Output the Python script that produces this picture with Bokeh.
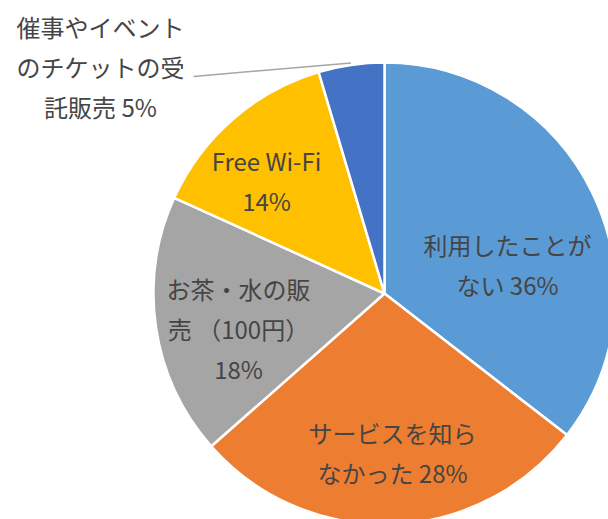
import math
from bokeh.plotting import figure
from bokeh.models import Range1d, ColumnDataSource
from bokeh.core.properties import value
from bokeh.embed import file_html
from bokeh.resources import INLINE

# ---- data ----
categories = ["利用したことがない", "サービスを知らなかった", "お茶・水の販売（100円）",
              "Free Wi-Fi", "催事やイベントのチケットの受託販売"]
shares = [35.5, 28.0, 18.3, 13.6, 4.6]
pct_labels = ["36%", "28%", "18%", "14%", "5%"]
colors = ["#5B9BD5", "#ED7D31", "#A5A5A5", "#FFC000", "#4472C4"]

# label lines (text) per slice
label_lines = [
    ["利用したことが", "ない 36%"],
    ["サービスを知ら", "なかった 28%"],
    ["お茶・水の販", "売 （100円）", "18%"],
    ["Free Wi-Fi", "14%"],
    ["催事やイベント", "のチケットの受", "託販売 5%"],
]

# ---- layout (screen px, y down) ----
W, H = 608, 519
CX, CY, R = 384, 293, 231
label_centers = [(507, 264), (392, 452), (238, 328), (266, 180), (100, 66)]
line_gap = 40
leader_start = (193, 76)

def sy(y):
    return H - y

p = figure(width=W, height=H, output_backend="svg", toolbar_location=None,
           x_range=Range1d(0, W), y_range=Range1d(0, H), min_border=0,
           outline_line_color=None)
p.axis.visible = False
p.grid.visible = False
p.background_fill_color = "white"
p.border_fill_color = "white"

total = sum(shares)
starts, ends, mids = [], [], []
cum = 0.0
for s in shares:
    a0 = math.pi / 2 - 2 * math.pi * cum / total
    cum += s
    a1 = math.pi / 2 - 2 * math.pi * cum / total
    starts.append(a0)
    ends.append(a1)
    mids.append((a0 + a1) / 2)

src = ColumnDataSource(dict(x=[CX] * len(shares), y=[sy(CY)] * len(shares),
                            start=starts, end=ends, color=colors))
p.wedge(x="x", y="y", radius=R, start_angle="start", end_angle="end",
        direction="clock", fill_color="color", line_color="white",
        line_width=2.5, source=src)

# leader line for the small slice
m = mids[4]
ex = CX + (R + 2) * math.cos(m)
ey = sy(CY) + (R + 2) * math.sin(m)
p.line([leader_start[0], ex], [sy(leader_start[1]), ey], line_color="#A6A6A6",
       line_width=1.5)

tx, ty, tt = [], [], []
for lines, (lx, ly) in zip(label_lines, label_centers):
    n = len(lines)
    for i, t in enumerate(lines):
        yy = ly + (i - (n - 1) / 2) * line_gap
        tx.append(lx)
        ty.append(sy(yy))
        tt.append(t)

p.text(x=tx, y=ty, text=tt, text_align="center", text_baseline="middle",
       text_font=value("Noto Sans CJK JP"), text_font_size="24px",
       text_color="#454545")

open("out.html", "w").write(file_html(p, INLINE))
